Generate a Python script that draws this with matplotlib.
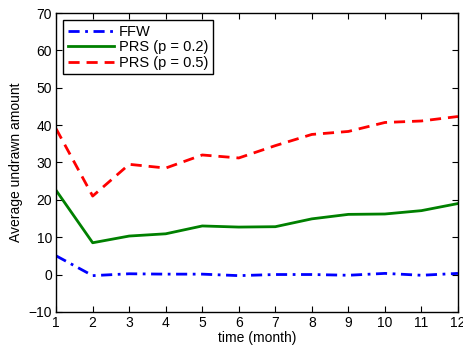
import matplotlib
matplotlib.use("Agg")
import matplotlib.pyplot as plt

plt.rcParams['font.family'] = ['Liberation Sans', 'DejaVu Sans']
plt.rcParams['font.size'] = 10

# months on the x axis
months = list(range(1, 13))

# average undrawn amount per scheme
ffw = [5.0, -0.3, 0.2, 0.1, 0.1, -0.3, 0.0, 0.0, -0.2, 0.3, -0.2, 0.3]
prs_02 = [22.5, 8.5, 10.3, 10.9, 13.0, 12.7, 12.8, 14.9, 16.1, 16.2, 17.1, 19.0]
prs_05 = [39.0, 21.0, 29.5, 28.5, 32.0, 31.2, 34.5, 37.5, 38.3, 40.7, 41.1, 42.3]

fig = plt.figure(figsize=(4.64, 3.52), dpi=100)
ax = fig.add_axes([0.121, 0.114, 0.866, 0.849])

ax.plot(months, ffw, color='blue', linestyle=(0, (4, 2, 1, 2)), linewidth=2, label='FFW')
ax.plot(months, prs_02, color='green', linestyle='-', linewidth=2, label='PRS (p = 0.2)')
ax.plot(months, prs_05, color='red', linestyle=(0, (4, 2.5)), linewidth=2, label='PRS (p = 0.5)')

ax.set_xlim(1, 12)
ax.set_ylim(-10, 70)
ax.set_xticks(months)
ax.set_yticks(range(-10, 71, 10))
ax.set_yticklabels(['\u221210'] + [str(v) for v in range(0, 71, 10)])
ax.tick_params(direction='in', top=True, right=True, length=4, pad=3)
for s in ax.spines.values():
    s.set_linewidth(1)

ax.set_xlabel('time (month)', labelpad=1)
ax.set_ylabel('Average undrawn amount', labelpad=4)

leg = ax.legend(loc='upper left', fancybox=False, edgecolor='black',
                framealpha=1, borderaxespad=0.5, handlelength=3.2,
                labelspacing=0.1, borderpad=0.3, handletextpad=0.3,
                fontsize=10.5)
leg.get_frame().set_linewidth(1)

fig.savefig('out.png', dpi=100)
